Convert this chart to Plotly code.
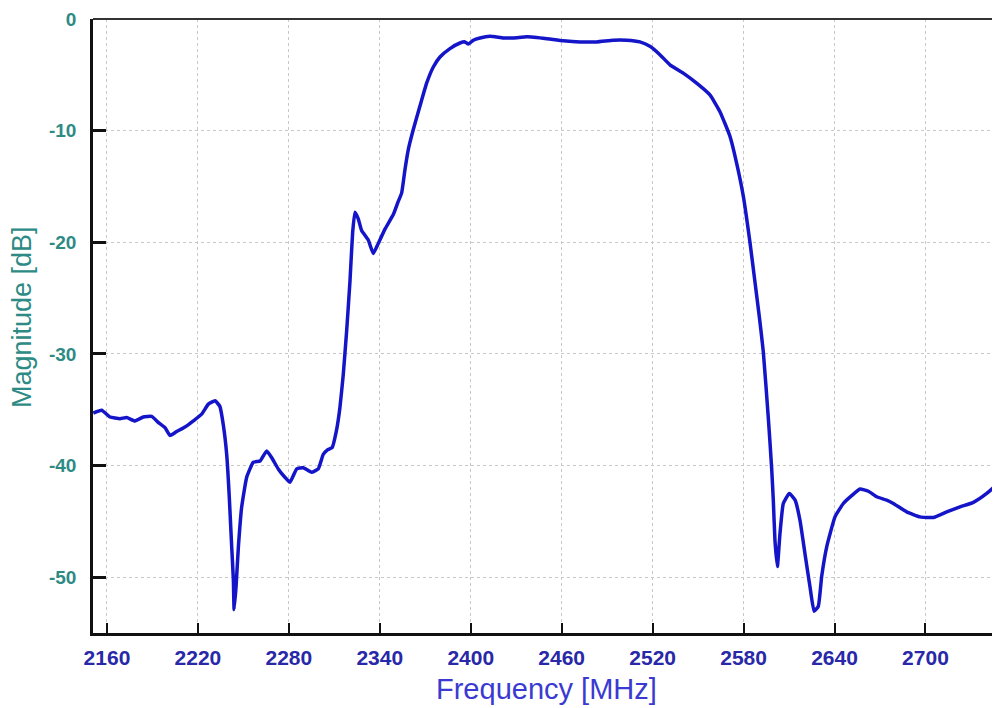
import plotly.graph_objects as go

freq = [2151, 2156.5, 2162, 2168.6, 2173, 2178.5, 2184, 2189.5, 2194, 2198.3,
        2201.6, 2206, 2211.5, 2217, 2222.5, 2226.9, 2231.3, 2234.5, 2236.7, 2239,
        2240.7, 2242.3, 2243.4, 2243.9, 2245.2, 2246.7, 2248.9, 2252.2, 2256.6, 2261,
        2265.4, 2268.7, 2273, 2277.4, 2280.7, 2285.2, 2289.5, 2295, 2299.4, 2302.7,
        2305.5, 2308.5, 2311.5, 2313.7, 2315.9, 2318.1, 2320.3, 2322.1, 2323.6, 2325.8,
        2328, 2332.4, 2335.7, 2339, 2343.5, 2349, 2352, 2354.4, 2356.6, 2358.8,
        2362.1, 2366.5, 2370.9, 2375.3, 2379.7, 2386.3, 2392.9, 2396.2, 2398.4, 2401.7,
        2406.1, 2412.7, 2421.5, 2428.1, 2436.9, 2443.5, 2452.3, 2461.1, 2472.1, 2483.1,
        2494, 2502.8, 2511.6, 2518.2, 2524.8, 2531.4, 2540.2, 2549, 2557.8, 2564.4,
        2571, 2575.4, 2579.8, 2584.2, 2587.5, 2590.5, 2593, 2596.3, 2598.5, 2599.6,
        2600.7, 2602.3, 2604, 2606.2, 2610.2, 2614, 2617.2, 2620.5, 2623.8, 2626.5,
        2629.3, 2631.5, 2634.8, 2640.3, 2645.8, 2651.3, 2656.8, 2662.3, 2667.8, 2674.4,
        2678.8, 2687.6, 2696.4, 2705.2, 2714, 2722.8, 2731.6, 2740.4, 2748.7]

mag = [-35.3, -35.05, -35.65, -35.8, -35.7, -36.0, -35.65, -35.6, -36.15, -36.6,
       -37.3, -36.95, -36.55, -36.0, -35.4, -34.5, -34.2, -34.7, -36.3, -39.0,
       -42.8, -47.3, -50.2, -52.9, -50.8, -47.3, -43.7, -41.05, -39.7, -39.6,
       -38.7, -39.3, -40.3, -41.05, -41.5, -40.3, -40.2, -40.6, -40.3, -39.0,
       -38.6, -38.4, -36.8, -34.8, -31.85, -28.0, -23.55, -19.1, -17.3, -17.9,
       -18.95, -19.8, -21.0, -20.1, -18.8, -17.5, -16.4, -15.6, -13.5, -11.7,
       -9.9, -7.8, -5.75, -4.3, -3.4, -2.65, -2.15, -2.05, -2.25, -1.9,
       -1.7, -1.55, -1.7, -1.7, -1.6, -1.65, -1.8, -1.95, -2.05, -2.05,
       -1.9, -1.9, -2.05, -2.45, -3.2, -4.1, -4.85, -5.75, -6.8, -8.3,
       -10.5, -12.9, -15.85, -20.0, -23.55, -26.8, -29.8, -35.7, -40.2, -43.1,
       -46.7, -49.05, -46.1, -43.4, -42.5, -43.1, -44.9, -47.9, -50.85, -53.05,
       -52.6, -49.95, -47.3, -44.6, -43.4, -42.7, -42.1, -42.3, -42.8, -43.1,
       -43.4, -44.15, -44.6, -44.65, -44.15, -43.7, -43.3, -42.5, -41.5]

x_ticks = [2160, 2220, 2280, 2340, 2400, 2460, 2520, 2580, 2640, 2700]
y_ticks = [0, -10, -20, -30, -40, -50]

fig = go.Figure()
fig.add_trace(go.Scatter(x=freq, y=mag, mode="lines",
                         line=dict(color="#1414c8", width=3.5, shape="spline", smoothing=0.4),
                         showlegend=False))

fig.update_layout(
    width=992, height=700,
    margin=dict(l=85, r=1, t=7, b=75),
    paper_bgcolor="white", plot_bgcolor="white",
    font=dict(family="Liberation Sans, Arial, sans-serif"),
    xaxis=dict(range=[2150.8, 2748.5], tickvals=x_ticks,
               ticktext=[f"<b>{v}</b>" for v in x_ticks],
               tickfont=dict(size=21, color="#2828a8"),
               ticks="inside", ticklen=10, tickwidth=2, tickcolor="#111111",
               showline=True, linewidth=2.5, linecolor="#111111",
               showgrid=True, gridcolor="#c8c8c8", griddash="dot", gridwidth=1,
               zeroline=False, ticklabelstandoff=4, ticklabeloverflow="allow"),
    yaxis=dict(range=[-55, 0], tickvals=y_ticks,
               ticktext=[f"<b>{v}</b>" for v in y_ticks],
               tickfont=dict(size=19, color="#2e8a84"),
               ticks="inside", ticklen=13, tickwidth=2.5, tickcolor="#111111",
               showline=True, linewidth=2.5, linecolor="#111111",
               showgrid=True, gridcolor="#c8c8c8", griddash="dot", gridwidth=1,
               zeroline=False, ticklabelstandoff=10, ticklabeloverflow="allow"),
    shapes=[
        dict(type="line", xref="paper", yref="paper", x0=0, x1=1, y0=1, y1=1,
             line=dict(color="#333333", width=2)),
        dict(type="line", xref="paper", yref="paper", x0=1, x1=1, y0=0, y1=1,
             line=dict(color="#888888", width=1.5)),
    ],
    annotations=[
        dict(text="Frequency [MHz]", xref="paper", yref="paper", x=0.5, y=0,
             yshift=-56, xanchor="center", yanchor="middle", showarrow=False,
             font=dict(size=29, color="#3a3ad2")),
        dict(text="Magnitude [dB]", xref="paper", yref="paper", x=0, y=0.5,
             xshift=-71, yshift=9, xanchor="center", yanchor="middle", showarrow=False,
             textangle=-90, font=dict(size=27, color="#2e8a84")),
    ],
)

fig.write_html("out.html")
